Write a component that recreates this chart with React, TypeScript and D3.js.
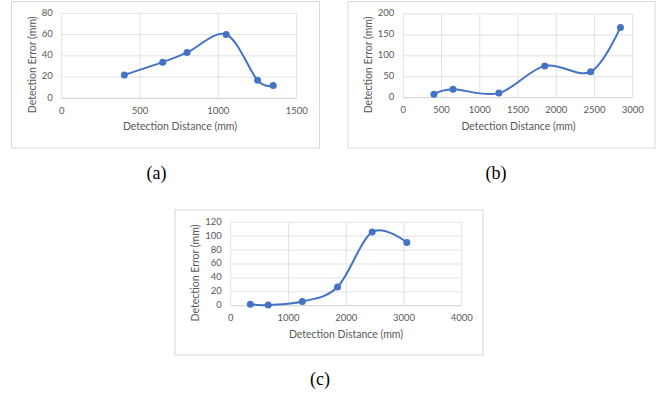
import React, {useRef, useEffect} from 'react';
import * as d3 from 'd3';

// (a)
const distA = [400, 645, 800, 1050, 1250, 1350];
const errA = [22, 34, 43, 60, 17, 12];
const xTicksA = [0, 500, 1000, 1500];
const yTicksA = [0, 20, 40, 60, 80];

// (b)
const distB = [400, 650, 1250, 1850, 2450, 2840];
const errB = [8, 20, 11, 76, 62, 168];
const xTicksB = [0, 500, 1000, 1500, 2000, 2500, 3000];
const yTicksB = [0, 50, 100, 150, 200];

// (c)
const distC = [340, 650, 1240, 1850, 2450, 3050];
const errC = [2, 1, 6, 27, 106, 91];
const xTicksC = [0, 1000, 2000, 3000, 4000];
const yTicksC = [0, 20, 40, 60, 80, 100, 120];

const xTitle = 'Detection Distance (mm)';
const yTitle = 'Detection Error (mm)';
const captions = ['(a)', '(b)', '(c)'];

const W = 672;
const H = 398;

const SANS = 'Lato, "Liberation Sans", sans-serif';
const GREY = '#595959';
const BLUE = '#4472C4';

export default () => {
  const ref = useRef(null);

  useEffect(() => {
    const svg = d3.select(ref.current);
    svg.selectAll('*').remove();

    const panels = [
      {
        xs: distA, ys: errA, xt: xTicksA, yt: yTicksA, cap: captions[0],
        frame: [11.5, 1.5, 308, 146.5], px: [61.7, 296.7], py: [98.3, 13.3],
        yTitleX: 33, xTitleX: 180, capX: 156.5, capY: 178.5,
      },
      {
        xs: distB, ys: errB, xt: xTicksB, yt: yTicksB, cap: captions[1],
        frame: [348, 1.5, 307, 146.5], px: [403.3, 632.7], py: [97.7, 14],
        yTitleX: 369.3, xTitleX: 518.5, capX: 496, capY: 178.5,
      },
      {
        xs: distC, ys: errC, xt: xTicksC, yt: yTicksC, cap: captions[2],
        frame: [175, 210, 308, 145], px: [230.7, 461.7], py: [305.7, 222.3],
        yTitleX: 196.7, xTitleX: 346, capX: 320, capY: 384.5,
      },
    ];

    panels.forEach(p => {
      const g = svg.append('g');

      // 外框
      g.append('rect')
        .attr('x', p.frame[0])
        .attr('y', p.frame[1])
        .attr('width', p.frame[2])
        .attr('height', p.frame[3])
        .attr('fill', '#fff')
        .attr('stroke', '#d9d9d9')
        .attr('stroke-width', 1);

      const x = d3.scaleLinear()
        .domain([p.xt[0], p.xt[p.xt.length - 1]])
        .range(p.px);
      const y = d3.scaleLinear()
        .domain([p.yt[0], p.yt[p.yt.length - 1]])
        .range(p.py);

      // 网格线
      g.selectAll('.vgrid')
        .data(p.xt)
        .enter()
        .append('line')
        .attr('x1', d => x(d))
        .attr('x2', d => x(d))
        .attr('y1', p.py[0])
        .attr('y2', p.py[1])
        .attr('stroke', '#d9d9d9')
        .attr('stroke-width', 0.75);

      g.selectAll('.hgrid')
        .data(p.yt)
        .enter()
        .append('line')
        .attr('x1', p.px[0])
        .attr('x2', p.px[1])
        .attr('y1', d => y(d))
        .attr('y2', d => y(d))
        .attr('stroke', (d, i) => i === 0 ? '#bfbfbf' : '#d9d9d9')
        .attr('stroke-width', 0.75);

      // 刻度值
      g.selectAll('.xlab')
        .data(p.xt)
        .enter()
        .append('text')
        .attr('x', d => x(d))
        .attr('y', p.py[0] + 13)
        .attr('text-anchor', 'middle')
        .attr('dominant-baseline', 'middle')
        .attr('font-family', SANS)
        .attr('font-size', 9.5)
        .attr('fill', GREY)
        .text(d => d);

      g.selectAll('.ylab')
        .data(p.yt)
        .enter()
        .append('text')
        .attr('x', p.px[0] - 9)
        .attr('y', d => y(d))
        .attr('text-anchor', 'end')
        .attr('dominant-baseline', 'middle')
        .attr('font-family', SANS)
        .attr('font-size', 9.5)
        .attr('fill', GREY)
        .text(d => d);

      // 坐标轴标题
      g.append('text')
        .attr('x', p.xTitleX)
        .attr('y', p.py[0] + 29.5)
        .attr('text-anchor', 'middle')
        .attr('dominant-baseline', 'middle')
        .attr('font-family', SANS)
        .attr('font-size', 10.5)
        .attr('fill', GREY)
        .text(xTitle);

      const yc = (p.py[0] + p.py[1]) / 2 + 9;
      g.append('text')
        .attr('transform', `translate(${p.yTitleX},${yc}) rotate(-90)`)
        .attr('text-anchor', 'middle')
        .attr('dominant-baseline', 'middle')
        .attr('font-family', SANS)
        .attr('font-size', 10.5)
        .attr('fill', GREY)
        .text(yTitle);

      // 平滑曲线
      const pts = p.xs.map((d, i) => [d, p.ys[i]]);
      const line = d3.line()
        .x(d => x(d[0]))
        .y(d => y(d[1]))
        .curve(d3.curveCardinal.tension(0));

      g.append('path')
        .attr('d', line(pts))
        .attr('fill', 'none')
        .attr('stroke', BLUE)
        .attr('stroke-width', 2)
        .attr('stroke-linecap', 'round');

      g.selectAll('.dot')
        .data(pts)
        .enter()
        .append('circle')
        .attr('cx', d => x(d[0]))
        .attr('cy', d => y(d[1]))
        .attr('r', 3.5)
        .attr('fill', BLUE);

      // 图注
      g.append('text')
        .attr('x', p.capX)
        .attr('y', p.capY)
        .attr('text-anchor', 'middle')
        .attr('font-family', '"Liberation Serif", "Times New Roman", serif')
        .attr('font-size', 18)
        .attr('fill', '#000')
        .text(p.cap);
    });
  }, []);

  return (
    <svg ref={ref} width={W} height={H}
         style={{position: 'absolute', left: 0, top: 0, background: '#fff'}}/>
  );
};
